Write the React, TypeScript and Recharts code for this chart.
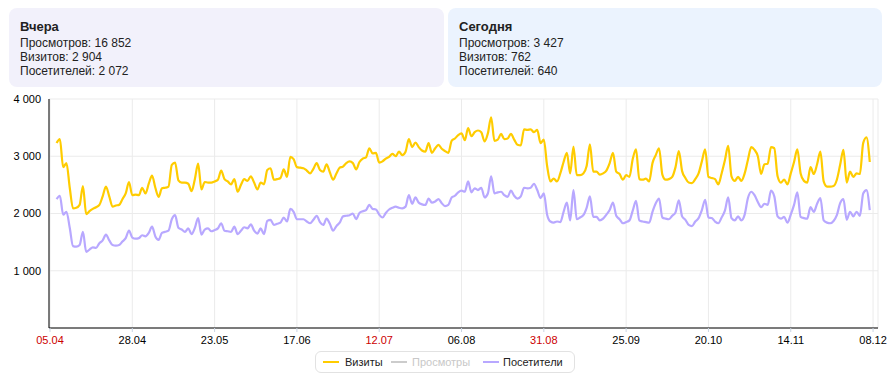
import React from 'react';
import { LineChart, Line, XAxis, YAxis, CartesianGrid } from 'recharts';

const tickLabels = ['05.04', '28.04', '23.05', '17.06', '12.07', '06.08', '31.08', '25.09', '20.10', '14.11', '08.12'];
const tickPositions = [0, 25, 50, 75, 100, 125, 150, 175, 200, 225, 250];
const redLabels = ['05.04', '12.07', '31.08'];
const yTicks = [1000, 2000, 3000, 4000];
const firstIndex = 2;

const visits = [
  3230, 3300, 2810, 2880, 2450, 2090, 2100, 2150, 2480, 1990,
  2040, 2080, 2110, 2150, 2300, 2470, 2300, 2120, 2140, 2150,
  2250, 2350, 2550, 2320, 2330, 2320, 2450, 2350, 2520, 2660,
  2450, 2290, 2440, 2450, 2470, 2850, 2890, 2580, 2540, 2540,
  2520, 2390, 2600, 2870, 2420, 2550, 2540, 2540, 2560, 2590,
  2750, 2600, 2560, 2510, 2600, 2380, 2500, 2600, 2570, 2650,
  2540, 2420, 2540, 2510, 2760, 2790, 2590, 2600, 2620, 2770,
  2640, 2990, 2950, 2810, 2800, 2790, 2750, 2700, 2780, 2880,
  2760, 2730, 2860, 2720, 2590, 2700, 2800, 2820, 2880, 2910,
  2880, 2770, 2900, 2960, 2980, 3140, 3050, 3060, 2890, 2910,
  2960, 2990, 3040, 3000, 3080, 3020, 3080, 3300, 3160, 3240,
  3160, 3100, 3080, 3230, 3060, 3140, 3200, 3130, 3090, 3060,
  3270, 3310, 3370, 3400, 3280, 3490, 3350, 3420, 3450, 3420,
  3260, 3400, 3680, 3270, 3290, 3390, 3300, 3310, 3390, 3290,
  3200, 3190, 3470, 3460, 3470, 3420, 3460, 3230, 3290, 2830,
  2560, 2610, 2560, 2700, 2900, 3060, 2700, 3170, 2670, 2670,
  2700, 2830, 3210, 2730, 2730, 2680, 2700, 2750, 2880, 3060,
  2730, 2690, 2590, 2670, 2640, 2950, 3120, 2600, 2590, 2610,
  2560, 2880, 3020, 3140, 2680, 2590, 2600, 2640, 2810, 3090,
  2740, 2620, 2540, 2530, 2600, 2700, 2910, 3120, 2640, 2620,
  2600, 2510, 2700, 2930, 3180, 2650, 2570, 2640, 2570, 2700,
  2940, 3160, 3110, 3000, 2690, 2860, 2870, 3160, 3140, 2650,
  2540, 2590, 2510, 2700, 2900, 3120, 2700, 2570, 2540, 2810,
  2690, 2860, 3080, 2560, 2470, 2470, 2480, 2590, 2850, 3110,
  2540, 2730, 2640, 2700, 2690, 3230, 3330, 2900,
];

const visitors = [
  2250, 2310, 1980, 2030, 1750, 1430, 1420, 1450, 1680, 1330,
  1370, 1410, 1400, 1480, 1530, 1630, 1530, 1450, 1440, 1450,
  1510, 1570, 1700, 1580, 1560, 1570, 1620, 1600, 1660, 1770,
  1600, 1540, 1660, 1680, 1700, 1900, 1970, 1750, 1720, 1680,
  1740, 1640, 1750, 1920, 1630, 1720, 1740, 1690, 1710, 1740,
  1830, 1700, 1690, 1680, 1770, 1640, 1700, 1760, 1740, 1810,
  1700, 1650, 1740, 1640, 1870, 1890, 1800, 1820, 1840, 1930,
  1860, 2080, 2030, 1900, 1900, 1900, 1860, 1830, 1890, 1960,
  1850, 1800, 1910, 1820, 1700, 1780, 1840, 1950, 1960, 1970,
  2000, 1900, 2010, 2040, 2060, 2150, 2080, 2070, 1980, 1930,
  2010, 2070, 2100, 2120, 2100, 2090, 2120, 2320, 2170, 2280,
  2190, 2160, 2150, 2260, 2190, 2210, 2250, 2180, 2130, 2150,
  2280, 2310, 2370, 2400, 2380, 2560, 2370, 2440, 2410, 2450,
  2280, 2350, 2650, 2350, 2370, 2380, 2320, 2290, 2400, 2310,
  2260, 2300, 2450, 2440, 2450, 2520, 2410, 2270, 2350, 1980,
  1860, 1840, 1860, 1850, 2030, 2190, 1880, 2410, 1900, 1930,
  1970, 2100, 2300, 1940, 1940, 1880, 1910, 1980, 2060, 2190,
  1960, 1900, 1830, 1850, 1880, 2050, 2220, 1880, 1860, 1850,
  1840, 2030, 2180, 2260, 1930, 1910, 1900, 1960, 2020, 2230,
  1950, 1890, 1800, 1780, 1860, 1920, 2060, 2240, 1930, 1920,
  1860, 1830, 1930, 2050, 2280, 1920, 1880, 1950, 1880, 1980,
  2270, 2380, 2320, 2200, 2110, 2170, 2150, 2400, 2300, 1950,
  1910, 1940, 1840, 1980, 2150, 2370, 1940, 1920, 1910, 2110,
  2030, 2170, 2270, 1880, 1840, 1830, 1870, 1970, 2180, 2250,
  1890, 2030, 1950, 2030, 1960, 2350, 2410, 2060,
];

const yesterdayStats = [
  ['Просмотров', '16 852'],
  ['Визитов', '2 904'],
  ['Посетителей', '2 072'],
];
const todayStats = [
  ['Просмотров', '3 427'],
  ['Визитов', '762'],
  ['Посетителей', '640'],
];

const legendItems = [
  { name: 'Визиты', color: '#ffcc00', inactive: false, lineX: 8, textX: 30 },
  { name: 'Просмотры', color: '#cccccc', inactive: true, lineX: 76, textX: 97 },
  { name: 'Посетители', color: '#b8a8ff', inactive: false, lineX: 168, textX: 188 },
];

const data = visits.map((v, k) => ({ i: k + firstIndex, visits: v, visitors: visitors[k] }));

const FONT = '"Liberation Sans", Arial, Helvetica, sans-serif';

const fmt = (v: number) => String(v).replace(/\B(?=(\d{3})+(?!\d))/g, ' ');

const labelFor = (v: number) => {
  const idx = tickPositions.indexOf(v);
  return idx >= 0 ? tickLabels[idx] : '';
};

const XTick = (props: any) => {
  const { x, y, payload } = props;
  const label = labelFor(payload.value);
  const red = redLabels.includes(label);
  return (
    <text x={x} y={y + 10} textAnchor="middle" fontSize={11} fontFamily={FONT} fill={red ? '#cc0000' : '#000'}>
      {label}
    </text>
  );
};

const Panel = ({ left, width, bg, title, stats }: any) => (
  <div
    style={{
      position: 'absolute',
      left,
      top: 8,
      width,
      height: 79,
      background: bg,
      borderRadius: 8,
      boxSizing: 'border-box',
      padding: '11px 11px',
      fontFamily: FONT,
      color: '#222',
    }}
  >
    <div style={{ fontWeight: 'bold', fontSize: 13, lineHeight: '16px', marginBottom: 1 }}>{title}</div>
    {stats.map((s: string[]) => (
      <div key={s[0]} style={{ fontSize: 12, lineHeight: '14px' }}>
        {s[0]}: {s[1]}
      </div>
    ))}
  </div>
);

export default function App() {
  return (
    <div style={{ position: 'absolute', left: 0, top: 0, width: 889, height: 380, background: '#fff' }}>
      <Panel left={9} width={435} bg="#f2f1fb" title="Вчера" stats={yesterdayStats} />
      <Panel left={448} width={434} bg="#ebf3fe" title="Сегодня" stats={todayStats} />
      <div style={{ position: 'absolute', left: 0, top: 0 }}>
        <LineChart width={889} height={380} data={data} margin={{ top: 99, right: 11, bottom: 22, left: 0 }}>
          <CartesianGrid stroke="#ebebeb" strokeWidth={1} />
          <XAxis
            dataKey="i"
            type="number"
            domain={[-0.3, 251.5]}
            ticks={tickPositions}
            allowDataOverflow
            interval={0}
            height={30}
            axisLine={{ stroke: '#000', strokeWidth: 1 }}
            tickLine={{ stroke: '#c9d4e2' }}
            tickSize={4}
            tick={<XTick />}
          />
          <YAxis
            type="number"
            domain={[0, 4000]}
            ticks={yTicks}
            width={49}
            axisLine={{ stroke: '#000', strokeWidth: 1 }}
            tickLine={false}
            tickFormatter={fmt}
            tick={{ fontSize: 11, fill: '#000', fontFamily: FONT }}
          />
          <Line
            type="monotone"
            dataKey="visitors"
            stroke="#b8a8ff"
            strokeWidth={2.2}
            dot={false}
            isAnimationActive={false}
          />
          <Line
            type="monotone"
            dataKey="visits"
            stroke="#ffcc00"
            strokeWidth={2.2}
            dot={false}
            isAnimationActive={false}
          />
        </LineChart>
      </div>
      <div
        style={{
          position: 'absolute',
          left: 315,
          top: 351,
          width: 260,
          height: 22,
          boxSizing: 'border-box',
          border: '1px solid #e2e2e2',
          borderRadius: 6,
          fontFamily: FONT,
          fontSize: 11,
        }}
      >
        {legendItems.map((it) => (
          <React.Fragment key={it.name}>
            <svg width={16} height={4} style={{ position: 'absolute', left: it.lineX - 1, top: 8 }}>
              <line x1={0} y1={2} x2={16} y2={2} stroke={it.color} strokeWidth={2} />
            </svg>
            <span
              style={{
                position: 'absolute',
                left: it.textX - 1,
                top: 3,
                lineHeight: '14px',
                whiteSpace: 'nowrap',
                color: it.inactive ? '#c8c8c8' : '#222',
              }}
            >
              {it.name}
            </span>
          </React.Fragment>
        ))}
      </div>
    </div>
  );
}
